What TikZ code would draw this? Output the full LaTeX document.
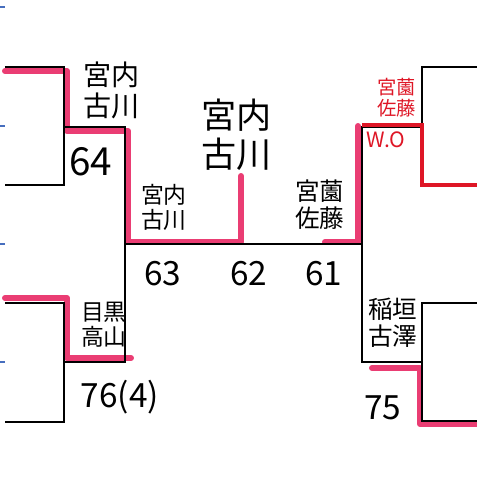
\documentclass[tikz,border=0pt]{standalone}
\usepackage{fontspec}
\setmainfont{Noto Sans CJK JP}
\usepackage{tikz}
\usetikzlibrary{positioning}
\definecolor{hlpink}{RGB}{232,40,100}
\definecolor{wored}{RGB}{222,22,38}
\definecolor{tickblue}{RGB}{70,110,190}
\tikzset{bline/.style={draw=black, line width=0.8pt}}
\tikzset{hline/.style={draw=hlpink, line width=3.4pt, line cap=round, line join=round, opacity=0.9}}
\tikzset{woline/.style={draw=wored, line width=1.8pt, line join=miter}}
\tikzset{tick/.style={draw=tickblue, line width=0.8pt}}
\tikzset{pair/.style={inner sep=0pt, align=center, font=\fontsize{#1}{\dimexpr#1*11/10\relax}\selectfont}}
\tikzset{score/.style={inner sep=0pt, font=\fontsize{#1}{#1}\selectfont}}

\begin{document}
\begin{tikzpicture}[x=0.02cm, y=-0.02cm]
    \useasboundingbox (0,0) rectangle (477,478);
    % bracket corners
    \coordinate (a1) at (5,67);
    \coordinate (a2) at (64,67);
    \coordinate (a3) at (64,185);
    \coordinate (a4) at (5,185);
    \coordinate (b1) at (5,303);
    \coordinate (b2) at (64,303);
    \coordinate (b3) at (64,422);
    \coordinate (b4) at (5,422);
    \coordinate (c1) at (64,127);
    \coordinate (c2) at (125,127);
    \coordinate (c3) at (125,362);
    \coordinate (c4) at (64,362);
    \coordinate (m1) at (125,244);
    \coordinate (m2) at (362,244);
    \coordinate (d1) at (422,127);
    \coordinate (d2) at (362,127);
    \coordinate (d3) at (362,362);
    \coordinate (d4) at (422,362);
    \coordinate (e1) at (477,67);
    \coordinate (e2) at (422,67);
    \coordinate (e3) at (422,125);
    \coordinate (e4) at (422,185);
    \coordinate (e5) at (477,185);
    \coordinate (f1) at (477,303);
    \coordinate (f2) at (422,303);
    \coordinate (f3) at (422,421);
    \coordinate (f4) at (477,421);
    \coordinate (w1) at (362,125);

    % pink winner lines
    \draw[hline] (5,71) -- (67,71) -- (67,131) -- (128,131) -- (128,242) -- (241,242) -- (241,176);
    \draw[hline] (5,298) -- (67,298) -- (67,358) -- (131,358);
    \draw[hline] (325,242) -- (358,242) -- (358,126);
    \draw[hline] (372,368) -- (420,368) -- (420,424) -- (477,424);

    % black bracket
    \draw[bline] (a1) -- (a2) -- (a3) -- (a4);
    \draw[bline] (b1) -- (b2) -- (b3) -- (b4);
    \draw[bline] (c1) -- (c2) -- (c3) -- (c4);
    \draw[bline] (m1) -- (m2);
    \draw[bline] (d1) -- (d2) -- (d3) -- (d4);
    \draw[bline] (e1) -- (e2) -- (e3);
    \draw[bline] (f1) -- (f2) -- (f3) -- (f4);
    \draw[woline] (w1) -- (e3) -- (e4) -- (e5);

    % blue ticks
    \foreach \ty in {7,126,244,362}
        \draw[tick] (0,\ty) -- (5,\ty);

    % names
    \node[pair=16pt] (p1) at (112,90) {宮内\\古川};
    \node[pair=13pt] (p2) at (164,207) {宮内\\古川};
    \node[pair=20pt] (p3) at (237,135) {宮内\\古川};
    \node[pair=14pt] (p4) at (320,205) {宮薗\\佐藤};
    \node[pair=11pt, text=wored] (p5) at (397,98) {宮薗\\佐藤};
    \node[pair=13pt] (p6) at (104,325) {目黒\\高山};
    \node[pair=14pt] (p7) at (393,323) {稲垣\\古澤};
    \node[score=12pt, text=wored] (wo) at (386,140) {W.O};

    % scores
    \node[score=22pt] (s64) at (91,162) {64};
    \node[score=19pt] (s63) at (163,274) {63};
    \node[score=19pt] (s62) at (249,274) {62};
    \node[score=19pt] (s61) at (324,274) {61};
    \node[score=19pt] (s76) at (120,397) {76(4)};
    \node[score=19pt] (s75) at (383,408) {75};
\end{tikzpicture}
\end{document}
